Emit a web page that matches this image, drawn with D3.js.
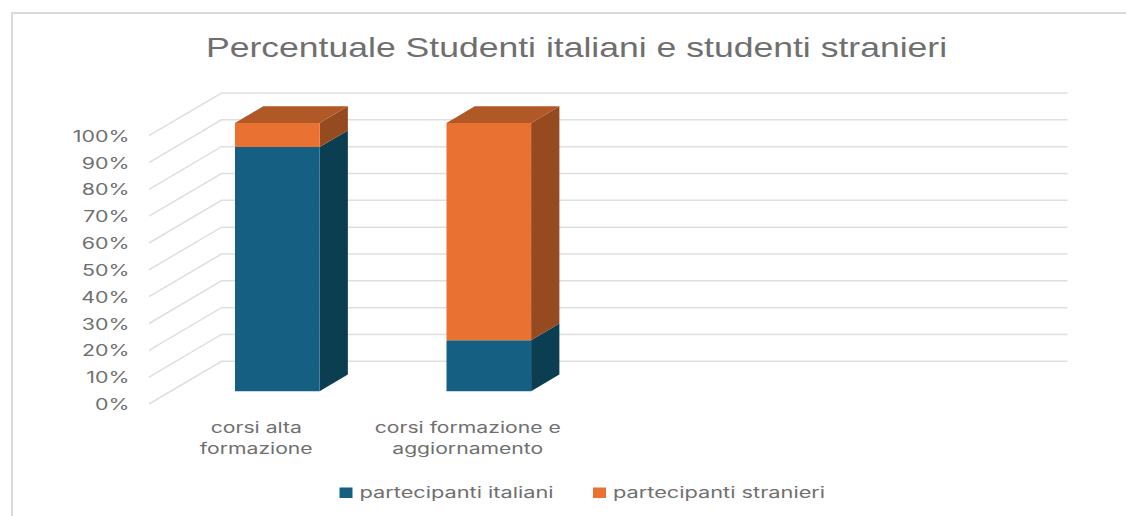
<!DOCTYPE html>
<html>
<head>
<meta charset="utf-8">
<script src="https://cdn.jsdelivr.net/npm/d3@7"></script>
<style>
  html, body { margin: 0; padding: 0; background: #fff; }
  svg { display: block; }
  text { fill: #6f6f6f; font-family: Inter, "Liberation Sans", sans-serif; }
</style>
</head>
<body>
<svg id="drawing_region"></svg>
<script>
// values
const categories = ["corsi alta formazione", "corsi formazione e aggiornamento"];
const blankSlots = ["slot3", "slot4"];
const seriesNames = ["partecipanti italiani", "partecipanti stranieri"];
const italiani = [91, 19];
const stranieri = [9, 81];
const percentTicks = [0, 10, 20, 30, 40, 50, 60, 70, 80, 90, 100];
const categoryLines = [["corsi alta", "formazione"], ["corsi formazione e", "aggiornamento"]];
const titleText = "Percentuale Studenti italiani e studenti stranieri";

const width = 1126, height = 516;
const svg = d3.select("#drawing_region").attr("width", width).attr("height", height);

// frame of the pasted chart
svg.append("path")
    .attr("d", "M12,516V13H1126")
    .attr("fill", "none")
    .attr("stroke", "#d9d9d9")
    .attr("stroke-width", 2);

// title, the picture is stretched sideways
svg.append("text")
    .attr("transform", "translate(576.5,57) scale(1.27,1)")
    .attr("text-anchor", "middle")
    .attr("font-size", 28)
    .style("font-family", "'Liberation Sans', sans-serif")
    .text(titleText);

// 3d frame: front plane scales + a depth shift
const depthX = 72.5, depthY = 42.7;
const wallLeft = 149, wallRight = 995;
const xscale = d3.scaleBand().domain(categories.concat(blankSlots)).range([wallLeft + 0.8, wallRight + 0.8]);
const yscale = d3.scaleLinear().domain([0, 100]).range([404, 135.7]);
const barWidth = xscale.step() * 0.4;
const project = (x, v, depth) => [x + depth * depthX, yscale(v) - depth * depthY];
const outline = pts => pts.map(p => p.join(",")).join(" ");

// walls
svg.append("g").selectAll("polyline")
    .data(percentTicks)
    .enter()
    .append("polyline")
    .attr("points", d => outline([project(wallLeft, d, 0), project(wallLeft, d, 1), project(wallRight, d, 1)]))
    .attr("fill", "none")
    .attr("stroke", "#dfdfdf")
    .attr("stroke-width", 1.5);

// stacked bars
const stack = d3.stack().keys([0, 1]).value((row, k) => row[k]);
const rows = categories.map((c, i) => [italiani[i], stranieri[i]]);
const layers = stack(rows);
const colors = [
    {front: "#156082", side: "#0c3e52", top: "#124f6b"},
    {front: "#e97132", side: "#964a1f", top: "#b05826"}
];
const depthA = 0.3, depthB = 0.69;

layers.forEach((layer, k) => {
    const g = svg.append("g");
    layer.forEach((seg, i) => {
        const x0 = xscale(categories[i]) + xscale.step() / 2 - barWidth / 2;
        const x1 = x0 + barWidth;
        g.append("polygon")
            .attr("points", outline([project(x1, seg[0], depthA), project(x1, seg[0], depthB), project(x1, seg[1], depthB), project(x1, seg[1], depthA)]))
            .attr("fill", colors[k].side);
        if (k === layers.length - 1) {
            g.append("polygon")
                .attr("points", outline([project(x0, seg[1], depthA), project(x0, seg[1], depthB), project(x1, seg[1], depthB), project(x1, seg[1], depthA)]))
                .attr("fill", colors[k].top);
        }
        g.append("polygon")
            .attr("points", outline([project(x0, seg[0], depthA), project(x1, seg[0], depthA), project(x1, seg[1], depthA), project(x0, seg[1], depthA)]))
            .attr("fill", colors[k].front);
    });
});

// y axis labels
const yaxis = d3.axisLeft(yscale).tickValues(percentTicks).tickSize(0).tickFormat(d => d + "%");
const yaxis_group = svg.append("g").attr("transform", "translate(129.5,0)").call(yaxis);
yaxis_group.select(".domain").remove();
yaxis_group.selectAll("text")
    .attr("x", 0).attr("dy", "0.36em")
    .attr("transform", "scale(1.38,1)")
    .attr("font-size", 15.5)
    .style("font-family", "Inter, sans-serif");

// category labels
categories.forEach((c, i) => {
    const cx = xscale(c) + xscale.step() / 2 + 0.7;
    categoryLines[i].forEach((line, j) => {
        svg.append("text")
            .attr("transform", `translate(${cx},${433 + j * 21}) scale(1.41,1)`)
            .attr("text-anchor", "middle")
            .attr("font-size", 15)
            .text(line);
    });
});

// legend
const legendX = [339.5, 593];
seriesNames.forEach((name, k) => {
    svg.append("rect")
        .attr("x", legendX[k]).attr("y", 487.5)
        .attr("width", 13).attr("height", 10.5)
        .attr("fill", colors[k].front);
    svg.append("text")
        .attr("transform", `translate(${legendX[k] + 20},497.5) scale(1.45,1)`)
        .attr("font-size", 15)
        .text(name);
});
</script>
</body>
</html>
